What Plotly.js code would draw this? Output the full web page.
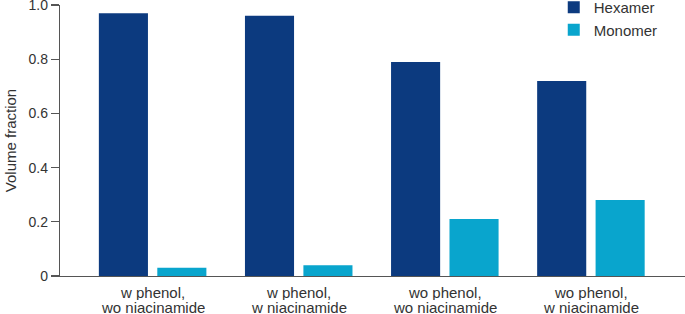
<!DOCTYPE html>
<html>
<head>
<meta charset="utf-8">
<script src="https://cdn.plot.ly/plotly-3.0.1.min.js"></script>
<style>html,body{margin:0;padding:0;background:#fff;overflow:hidden;}#chart{width:685px;height:324px;margin-top:-10px;}</style>
</head>
<body>
<div id="chart"></div>
<script>
const categoryLine1 = ["w phenol,", "w phenol,", "wo phenol,", "wo phenol,"];
const categoryLine2 = ["wo niacinamide", "w niacinamide", "wo niacinamide", "w niacinamide"];
const hexamer = [0.97, 0.96, 0.79, 0.72];
const monomer = [0.03, 0.04, 0.21, 0.28];
const yTickVals = [0, 0.2, 0.4, 0.6, 0.8, 1.0];
const yTickText = ["0", "0.2", "0.4", "0.6", "0.8", "1.0"];

const FONT = "Liberation Sans, Arial, Helvetica, sans-serif";
const xs = categoryLine1.map((_, i) => i);
const data = [
  {type: "bar", name: "Hexamer", x: xs, y: hexamer, marker: {color: "#0c3a7f"}},
  {type: "bar", name: "Monomer", x: xs, y: monomer, marker: {color: "#09a5cd"}}
];
const annotations = [];
xs.forEach((i) => {
  annotations.push({xref: "x", yref: "paper", x: i, y: 0, yshift: -16, yanchor: "middle", xanchor: "center", height: 15,
    text: categoryLine1[i], showarrow: false, font: {size: 15, color: "#333"}});
  annotations.push({xref: "x", yref: "paper", x: i, y: 0, yshift: -31, yanchor: "middle", xanchor: "center", height: 15,
    text: categoryLine2[i], showarrow: false, font: {size: 15, color: "#333"}});
});
const layout = {
  width: 685, height: 324,
  margin: {l: 60, r: 0, t: 15, b: 38},
  paper_bgcolor: "#fff", plot_bgcolor: "#fff",
  font: {family: FONT, size: 15, color: "#333"},
  barmode: "group", bargap: 0.2, bargroupgap: 0.16,
  showlegend: true,
  legend: {x: 0.79, xanchor: "left", y: 1.052, yanchor: "top", font: {size: 15, color: "#333"}, tracegroupgap: 0, itemwidth: 30, bgcolor: "rgba(0,0,0,0)"},
  annotations: annotations,
  xaxis: {
    range: [-0.634, 3.644], tickvals: xs, showticklabels: false,
    showline: true, linecolor: "#555", linewidth: 1.2, ticks: "", showgrid: false, zeroline: false
  },
  yaxis: {
    range: [0, 1], tickvals: yTickVals, ticktext: yTickText,
    showline: true, linecolor: "#555", linewidth: 1.2, ticks: "outside", ticklen: 8, tickcolor: "#555", tickwidth: 1.2,
    showgrid: false, zeroline: false, ticklabeloverflow: "allow",
    tickfont: {size: 14, color: "#333"},
    title: {text: "Volume fraction", font: {size: 15, color: "#333"}, standoff: 8}
  }
};
Plotly.newPlot("chart", data, layout, {displayModeBar: false, staticPlot: true});
</script>
</body>
</html>
